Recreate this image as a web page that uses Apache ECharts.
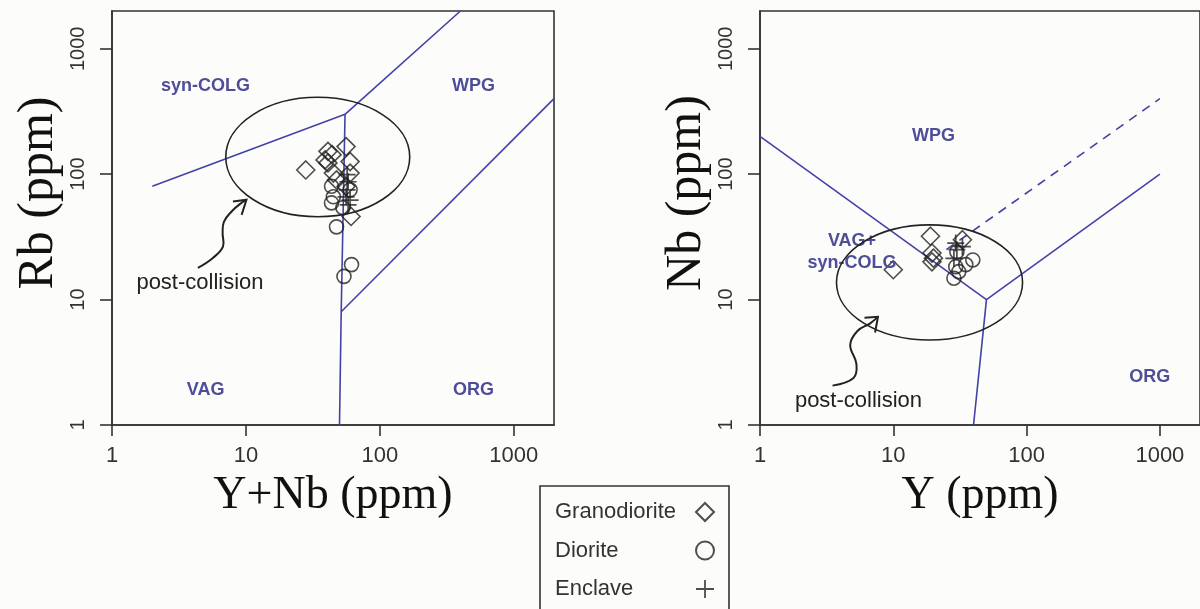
<!DOCTYPE html>
<html><head><meta charset="utf-8">
<script src="https://cdn.jsdelivr.net/npm/echarts@6/dist/echarts.min.js"></script>
<style>html,body{margin:0;padding:0;background:#fcfcfa;}#c{width:1200px;height:609px;}</style>
</head><body><div id="c"></div>
<script>
// ---------- data ----------
const tickValues = [1, 10, 100, 1000];
const seriesNames = ['Granodiorite', 'Diorite', 'Enclave'];

// Left diagram: Rb vs Y+Nb
const granoLeft   = [[28,108],[56,166],[41,152],[44,143],[39,130],[41,123],[60,126],[45,102],[60,102],[47.5,90],[56,80],[61,46]];
const dioriteLeft = [[43.6,80],[45,66],[43.6,59],[53,54],[47.5,38],[61.5,19],[54,15.3],[60,75]];
const enclaveLeft = [[57,99],[58,87],[57,75],[56,66],[60,62],[58,57]];

// Right diagram: Nb vs Y
const granoRight   = [[10,17.3],[19,32],[19.5,23.5],[20,21.4],[19.5,20],[33,30]];
const dioriteRight = [[29.4,18.3],[31,16.7],[28.5,14.8],[35,19],[39.5,20.7],[30,24]];
const enclaveRight = [[29.4,28.2],[30,25],[28.5,21.3],[33,26.4]];

// Field boundaries (Pearce et al. 1984)
const leftBoundA = [[2,80],[55,300],[400,2000]];
const leftBoundB = [[55,300],[51.5,8],[50,1]];
const leftBoundC = [[51.5,8],[2000,400]];
const rightBoundA = [[1,200],[50,10],[1000,100]];
const rightBoundB = [[50,10],[40,1]];
const rightBoundDash = [[25,25],[1000,400]];

// Field labels [x, y, text]
const leftFieldLabels  = [[5,500,'syn-COLG'],[500,500,'WPG'],[5,1.9,'VAG'],[500,1.9,'ORG']];
const rightFieldLabels = [[20,200,'WPG'],[4.9,24,'VAG+\nsyn-COLG'],[840,2.4,'ORG']];

// post-collision ellipses: centre (data), half-axes in decades
const leftEllipse  = [34.4, 137, 0.687, 0.476];
const rightEllipse = [18.7, 13.7, 0.698, 0.459];

// post-collision label + curved arrow (data coords)
const leftPCLabel  = [4.54, 13.6];
const rightPCLabel = [5.48, 1.55];
const leftArrow  = [[4.38,17.9],[5.67,21.5],[6.74,26.4],[6.70,34.0],[6.85,41.7],[7.82,50.4],[9.29,59.2],[10.1,62.5]];
const leftHead   = [[8.0,60.5],[10.1,62.5],[9.29,47.4]];
const rightArrow = [[3.50,2.06],[5.03,2.37],[5.29,3.07],[4.75,4.35],[5.38,5.62],[6.67,6.44],[7.67,7.28]];
const rightHead  = [[6.08,7.17],[7.67,7.28],[7.30,5.46]];

// ---------- styling ----------
const SANS = 'Liberation Sans, Arial, sans-serif';
const SERIF = 'Liberation Serif, Times New Roman, serif';
const BLUE = '#4242a8';
const LABELBLUE = '#4d4d98';
const INK = '#222';
const PLUS = 'path://M9,0h2v9h9v2h-9v9h-2v-9h-9v-2h9z';

function xAxisDef(gi, name) {
  return {
    type: 'log', logBase: 10, min: 1, max: 2000, gridIndex: gi,
    name: name, nameLocation: 'middle', nameGap: 48,
    nameTextStyle: { fontFamily: SERIF, fontSize: 46, color: '#111' },
    axisLine: { show: true, onZero: false, lineStyle: { color: '#333', width: 1.6 } },
    axisTick: { show: true, length: 11, lineStyle: { color: '#333', width: 1.6 } },
    axisLabel: { fontFamily: SANS, fontSize: 22, color: '#333', margin: 20, showMaxLabel: false,
                 formatter: v => String(Math.round(v)) },
    splitLine: { show: false }, minorTick: { show: false }
  };
}
function yAxisDef(gi, name) {
  return {
    type: 'log', logBase: 10, min: 1, max: 2000, gridIndex: gi,
    name: name, nameLocation: 'middle', nameGap: 48, nameRotate: 90,
    nameTextStyle: { fontFamily: SERIF, fontSize: 50, color: '#111', padding: [0, 0, 0, 50] },
    axisLine: { show: true, onZero: false, lineStyle: { color: '#333', width: 1.6 } },
    axisTick: { show: true, length: 12, lineStyle: { color: '#333', width: 1.6 } },
    axisLabel: { fontFamily: SANS, fontSize: 20, color: '#333', margin: 24, rotate: 90, showMaxLabel: false,
                 formatter: v => String(Math.round(v)) },
    splitLine: { show: false }
  };
}
function boundary(gi, data, dashed) {
  return { type: 'line', xAxisIndex: gi, yAxisIndex: gi, data: data, showSymbol: false, silent: true,
    lineStyle: { color: BLUE, width: 1.6, type: dashed ? [9, 7] : 'solid' }, z: 2 };
}
function scatter(gi, name, data) {
  const base = { type: 'scatter', name: name, xAxisIndex: gi, yAxisIndex: gi, data: data, z: 5 };
  if (name === 'Granodiorite') {
    base.symbol = 'diamond'; base.symbolSize = 18;
    base.itemStyle = { color: 'rgba(0,0,0,0)', borderColor: INK, borderWidth: 1.6 };
  } else if (name === 'Diorite') {
    base.symbol = 'circle'; base.symbolSize = 14;
    base.itemStyle = { color: 'rgba(0,0,0,0)', borderColor: INK, borderWidth: 1.6 };
  } else {
    base.symbol = PLUS; base.symbolSize = 17;
    base.itemStyle = { color: INK };
  }
  return base;
}

const chart = echarts.init(document.getElementById('c'));
const option = {
  backgroundColor: '#fcfcfa',
  animation: false,
  grid: [
    { left: 112, top: 11, width: 442, height: 414, show: true, borderColor: '#333', borderWidth: 1.6, containLabel: false },
    { left: 760, top: 11, width: 442, height: 414, show: true, borderColor: '#333', borderWidth: 1.6, containLabel: false }
  ],
  xAxis: [xAxisDef(0, 'Y+Nb (ppm)'), xAxisDef(1, 'Y (ppm)')],
  yAxis: [yAxisDef(0, 'Rb (ppm)'), yAxisDef(1, 'Nb (ppm)')],
  legend: {
    orient: 'vertical', left: 540, top: 486, height: 300, align: 'right',
    data: seriesNames,
    itemWidth: 18, itemHeight: 18, itemGap: 14.5,
    padding: [14, 14, 60, 15],
    borderColor: '#333', borderWidth: 1.6, backgroundColor: '#fcfcfa',
    formatter: name => '{t|' + name + '}',
    textStyle: { fontFamily: SANS, fontSize: 22, color: '#333', lineHeight: 24,
      rich: { t: { fontFamily: SANS, fontSize: 22, color: '#333', width: 136, align: 'left', lineHeight: 24 } } },
    selectedMode: false
  },
  series: [
    boundary(0, leftBoundA), boundary(0, leftBoundB), boundary(0, leftBoundC),
    boundary(1, rightBoundA), boundary(1, rightBoundB), boundary(1, rightBoundDash, true),
    scatter(0, 'Granodiorite', granoLeft), scatter(0, 'Diorite', dioriteLeft), scatter(0, 'Enclave', enclaveLeft),
    scatter(1, 'Granodiorite', granoRight), scatter(1, 'Diorite', dioriteRight), scatter(1, 'Enclave', enclaveRight)
  ]
};
chart.setOption(option);

// ---------- annotations positioned through the axes ----------
function P(gi, p) { return chart.convertToPixel({ gridIndex: gi }, p); }
function ellipse(gi, e) {
  const c = P(gi, [e[0], e[1]]);
  const rxp = P(gi, [e[0] * Math.pow(10, e[2]), e[1]]);
  const ryp = P(gi, [e[0], e[1] * Math.pow(10, e[3])]);
  return { type: 'ellipse', shape: { cx: c[0], cy: c[1], rx: Math.abs(rxp[0] - c[0]), ry: Math.abs(c[1] - ryp[1]) },
    style: { fill: null, stroke: INK, lineWidth: 1.6 }, z: 10 };
}
function curve(gi, pts, smooth) {
  return { type: 'polyline', shape: { points: pts.map(p => P(gi, p)), smooth: smooth },
    style: { fill: null, stroke: INK, lineWidth: 2 }, z: 10 };
}
function text(gi, p, t, opts) {
  const q = P(gi, p);
  return { type: 'text', x: q[0], y: q[1], z: 10,
    style: Object.assign({ text: t, align: 'center', verticalAlign: 'middle' }, opts) };
}
const fieldStyle = { fontFamily: SANS, fontSize: 18, fontWeight: 'bold', fill: LABELBLUE, lineHeight: 22 };
const pcStyle = { fontFamily: SANS, fontSize: 22, fill: '#222' };
const g = [];
leftFieldLabels.forEach(l => g.push(text(0, [l[0], l[1]], l[2], fieldStyle)));
rightFieldLabels.forEach(l => g.push(text(1, [l[0], l[1]], l[2], fieldStyle)));
g.push(ellipse(0, leftEllipse), ellipse(1, rightEllipse));
g.push(text(0, leftPCLabel, 'post-collision', pcStyle), text(1, rightPCLabel, 'post-collision', pcStyle));
g.push(curve(0, leftArrow, 0.4), curve(0, leftHead, 0), curve(1, rightArrow, 0.4), curve(1, rightHead, 0));
chart.setOption({ graphic: g });
</script></body></html>
